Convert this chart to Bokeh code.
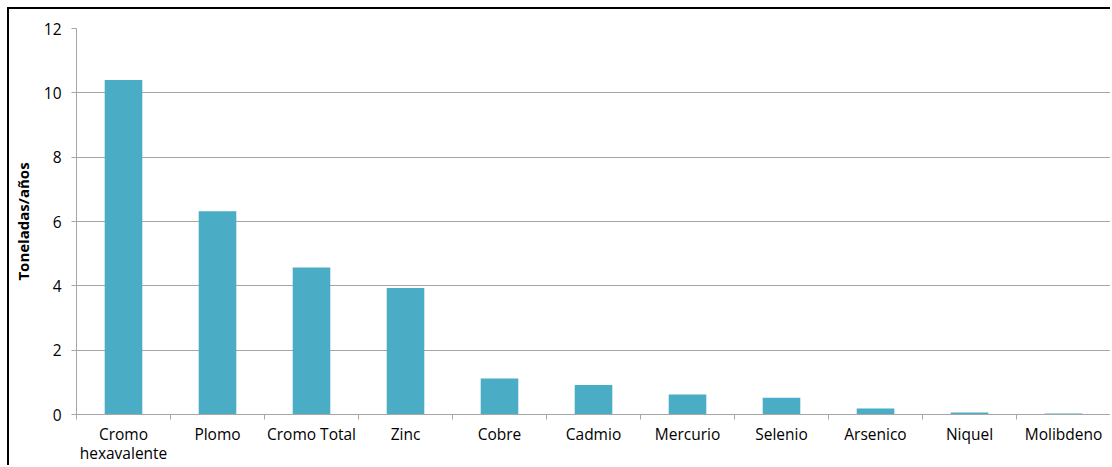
from bokeh.plotting import figure
from bokeh.models import FixedTicker, ColumnDataSource, Range1d
from bokeh.embed import file_html
from bokeh.resources import INLINE

# Emissions by metal (tonnes per year)
metales = ["Cromo\nhexavalente", "Plomo", "Cromo Total", "Zinc", "Cobre", "Cadmio",
           "Mercurio", "Selenio", "Arsenico", "Niquel", "Molibdeno"]
toneladas = [10.4, 6.32, 4.57, 3.93, 1.12, 0.92, 0.62, 0.52, 0.19, 0.06, 0.03]
y_ticks = [0, 2, 4, 6, 8, 10, 12]

BAR = "#4BACC6"
GRID = "#A6A6A6"
FONT = "Open Sans"

centros = [i + 0.5 for i in range(len(metales))]
src = ColumnDataSource(dict(x=centros, top=toneladas))

p = figure(width=1103, height=458, output_backend="svg", toolbar_location=None,
           x_range=Range1d(0, len(metales)), y_range=Range1d(0, 12),
           min_border_left=66, min_border_top=19, min_border_bottom=51,
           min_border_right=2)

# framed chart area
p.styles = {"margin-left": "7px", "margin-top": "7px",
            "border-left": "2px solid #000000", "border-top": "2px solid #000000"}

p.vbar(x="x", top="top", width=0.4, source=src, fill_color=BAR, line_color=None)

# x axis: labels at category centres, tick marks at category boundaries
p.xaxis.ticker = FixedTicker(ticks=centros, minor_ticks=list(range(len(metales) + 1)))
p.xaxis.major_label_overrides = {c: m for c, m in zip(centros, metales)}
p.xaxis.major_tick_out = 0
p.xaxis.major_tick_in = 0
p.xaxis.minor_tick_out = 5
p.xaxis.minor_tick_in = 0
p.xaxis.minor_tick_line_color = GRID
p.xaxis.axis_line_color = GRID
p.xaxis.major_label_text_font = FONT
p.xaxis.major_label_text_font_size = "15.5px"
p.xaxis.major_label_text_line_height = 0.9
p.xaxis.major_label_text_color = "#000000"
p.xaxis.major_label_standoff = 3

p.yaxis.ticker = FixedTicker(ticks=y_ticks)
p.yaxis.major_tick_out = 5
p.yaxis.major_tick_in = 0
p.yaxis.minor_tick_line_color = None
p.yaxis.major_tick_line_color = GRID
p.yaxis.axis_line_color = GRID
p.yaxis.major_label_text_font = FONT
p.yaxis.major_label_text_font_size = "15.5px"
p.yaxis.major_label_text_color = "#000000"
p.yaxis.major_label_standoff = 10
p.yaxis.axis_label = "Toneladas/años"
p.yaxis.axis_label_text_font = FONT
p.yaxis.axis_label_text_font_size = "15px"
p.yaxis.axis_label_text_font_style = "bold"
p.yaxis.axis_label_text_color = "#000000"
p.yaxis.axis_label_standoff = 8

p.xgrid.grid_line_color = None
p.ygrid.ticker = FixedTicker(ticks=y_ticks)
p.ygrid.grid_line_color = GRID
p.outline_line_color = None

open("out.html", "w").write(file_html(p, INLINE))
